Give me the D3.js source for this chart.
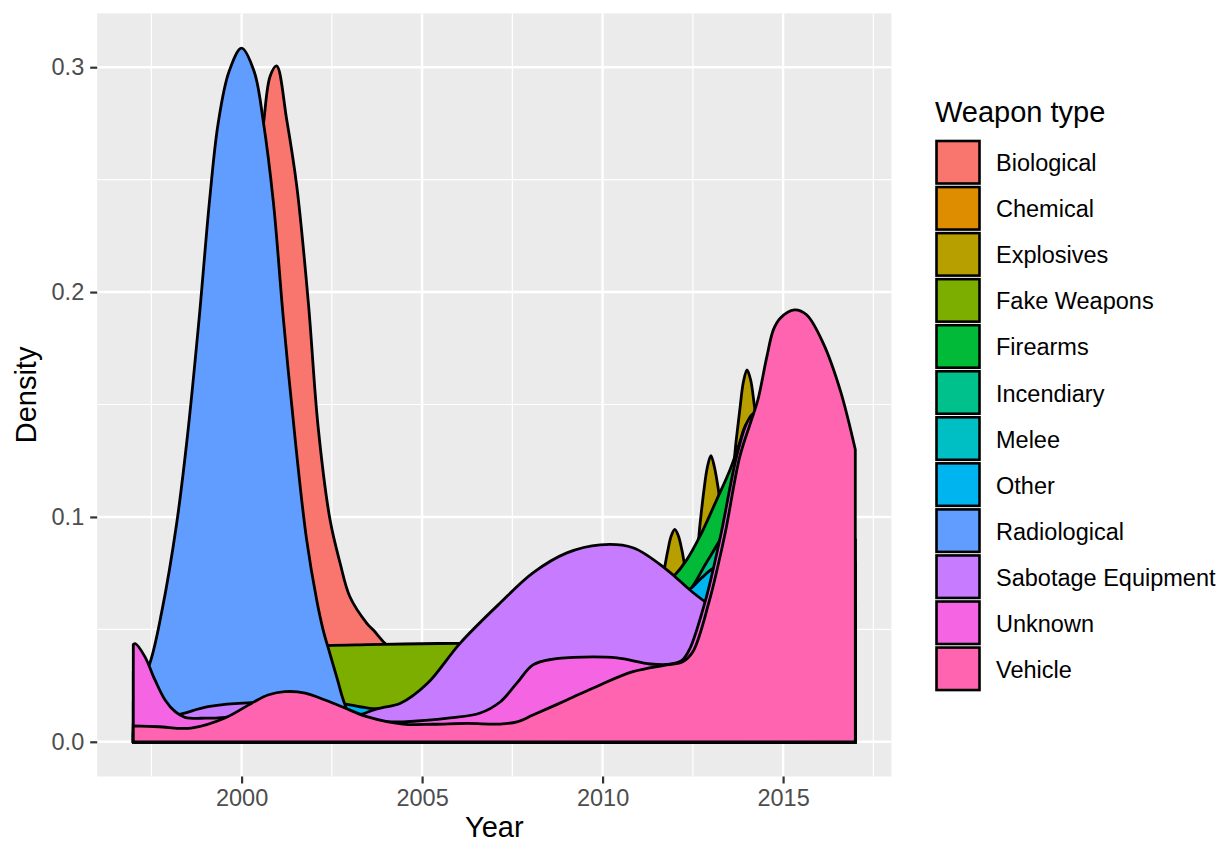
<!DOCTYPE html>
<html>
<head>
<meta charset="utf-8">
<script src="https://cdnjs.cloudflare.com/ajax/libs/d3/7.8.5/d3.min.js"></script>
<style>
  body { margin: 0; background: #fff; }
  svg { display: block; font-family: "Liberation Sans", Arial, Helvetica, sans-serif; }
</style>
</head>
<body>
<svg id="chart" width="1224" height="842"></svg>
<script>
/******************** DATOS ********************/
var weaponTypes = ["Biological", "Chemical", "Explosives", "Fake Weapons", "Firearms", "Incendiary",
                   "Melee", "Other", "Radiological", "Sabotage Equipment", "Unknown", "Vehicle"];
var colores = ["#F8766D", "#DE8C00", "#B79F00", "#7CAE00", "#00BA38", "#00C08B",
               "#00BFC4", "#00B4F0", "#619CFF", "#C77CFF", "#F564E3", "#FF64B0"];

// [year, density]
var biological = [[1997.0,0.000],[1998.0,0.003],[1999.0,0.040],[1999.6,0.110],[2000.0,0.180],[2000.3,0.235],
  [2000.6,0.274],[2000.79,0.296],[2000.97,0.3006],[2001.25,0.2766],[2001.53,0.2469],[2001.85,0.1951],
  [2002.12,0.140],[2002.45,0.0987],[2002.73,0.0794],[2003.0,0.0645],[2003.47,0.0527],[2003.65,0.0497],
  [2003.97,0.0438],[2004.5,0.036],[2005.0,0.029],[2006.0,0.020],[2008.0,0.012],[2011.0,0.008],[2014.0,0.006],[2017.0,0.005]];
var chemical = [[1997.0,0.004],[2000.0,0.020],[2005.0,0.020],[2010.0,0.015],[2013.0,0.030],[2015.0,0.090],[2016.0,0.100],[2017.0,0.090]];
var explosives = [[1997.0,0.004],[2003.0,0.004],[2007.0,0.005],[2009.0,0.009],[2010.0,0.016],[2010.8,0.030],[2011.3,0.048],
  [2011.6,0.068],[2011.7,0.076],[2011.8,0.0845],[2011.9,0.0915],[2012.0,0.0945],[2012.1,0.0915],[2012.2,0.085],
  [2012.3,0.077],[2012.45,0.072],[2012.6,0.082],[2012.7,0.097],[2012.8,0.111],[2012.9,0.122],[2013.0,0.1273],
  [2013.1,0.122],[2013.2,0.113],[2013.3,0.104],[2013.45,0.102],[2013.6,0.118],[2013.7,0.134],[2013.8,0.1476],
  [2013.9,0.160],[2014.0,0.1654],[2014.1,0.161],[2014.2,0.150],[2014.3,0.137],[2014.5,0.110],[2015.0,0.050],
  [2016.0,0.015],[2017.0,0.005]];
var fakeWeapons = [[1997.0,0.031],[1998.0,0.034],[1999.0,0.037],[2000.0,0.040],[2001.0,0.0415],[2002.36,0.0428],
  [2003.5,0.0432],[2004.5,0.0435],[2006.05,0.0438],[2007.5,0.0438],[2009.0,0.043],[2011.0,0.041],[2013.0,0.038],
  [2015.0,0.034],[2017.0,0.030]];
var firearms = [[1997.0,0.004],[2000.0,0.005],[2003.0,0.006],[2005.0,0.008],[2007.0,0.014],[2008.5,0.025],[2010.0,0.045],
  [2011.0,0.060],[2011.5,0.067],[2011.96,0.0734],[2012.33,0.0809],[2012.69,0.0912],[2013.16,0.1076],[2013.53,0.121],
  [2013.76,0.1313],[2013.99,0.1414],[2014.1,0.142],[2014.3,0.138],[2014.6,0.128],[2015.0,0.110],[2016.0,0.070],[2017.0,0.040]];
var incendiary = [[1997.0,0.003],[2000.0,0.004],[2004.0,0.006],[2007.0,0.012],[2009.0,0.025],[2010.5,0.042],[2011.5,0.056],
  [2012.0,0.062],[2012.42,0.0676],[2012.85,0.079],[2013.3,0.0912],[2013.7,0.104],[2014.2,0.113],[2015.0,0.110],
  [2016.0,0.085],[2017.0,0.060]];
var melee = [[1997.0,0.003],[2000.0,0.004],[2004.0,0.005],[2008.0,0.010],[2011.0,0.025],[2012.5,0.040],[2013.5,0.070],
  [2014.5,0.100],[2015.5,0.105],[2016.5,0.090],[2017.0,0.080]];
var other = [[1997.0,0.006],[1999.0,0.010],[2001.0,0.015],[2002.4,0.0175],[2002.87,0.0168],[2003.4,0.0153],[2003.64,0.0148],
  [2003.9,0.0147],[2005.0,0.0145],[2007.0,0.018],[2009.0,0.030],[2010.5,0.048],[2011.5,0.060],[2012.0,0.0645],
  [2012.42,0.068],[2012.75,0.073],[2013.07,0.0772],[2013.5,0.079],[2014.0,0.075],[2015.0,0.058],[2016.0,0.040],[2017.0,0.030]];
var radiological = [[1997.0,0.018],[1997.46,0.035],[1997.79,0.058],[1998.2,0.097],[1998.5,0.136],[1998.82,0.1876],
  [1999.12,0.2420],[1999.35,0.2750],[1999.65,0.2980],[2000.0,0.3085],[2000.35,0.2980],[2000.6,0.2760],[2000.88,0.2400],
  [2001.16,0.1876],[2001.5,0.132],[2001.8,0.090],[2002.08,0.0631],[2002.26,0.0497],[2002.45,0.039],[2002.65,0.028],
  [2002.82,0.0185],[2003.0,0.012],[2003.6,0.004],[2005.0,0.001],[2017.0,0.000]];
var sabotage = [[1997.0,0.008],[1997.8,0.0105],[1998.34,0.0124],[1999.07,0.0156],[2000.28,0.0174],[2001.2,0.0172],
  [2002.0,0.016],[2002.8,0.0135],[2003.3,0.0122],[2003.64,0.0141],[2003.9,0.0152],[2004.4,0.0171],[2005.15,0.026],
  [2006.05,0.0438],[2007.16,0.0617],[2008.07,0.0751],[2009.01,0.0840],[2009.93,0.0876],[2010.84,0.0863],
  [2011.78,0.0765],[2012.42,0.0675],[2012.84,0.0623],[2013.5,0.056],[2014.5,0.048],[2015.5,0.040],[2017.0,0.030]];
var unknown = [[1997.0,0.0432],[1997.06,0.0436],[1997.32,0.0379],[1997.6,0.0275],[1997.88,0.0186],[1998.16,0.0134],
  [1998.43,0.0109],[1999.0,0.0105],[1999.54,0.0109],[1999.82,0.0115],[2000.5,0.0115],[2001.5,0.011],[2002.5,0.010],
  [2003.5,0.0093],[2004.48,0.0089],[2005.78,0.0106],[2006.61,0.0128],[2007.16,0.0177],[2007.63,0.0262],
  [2008.07,0.0342],[2008.63,0.0368],[2009.46,0.0377],[2010.4,0.0373],[2011.32,0.0346],[2011.87,0.0345],
  [2012.2,0.0362],[2012.42,0.0415],[2012.84,0.0623],[2013.07,0.0772],[2013.3,0.094],[2013.71,0.1268],
  [2014.0,0.142],[2014.19,0.146],[2014.5,0.142],[2015.0,0.125],[2016.0,0.085],[2017.0,0.050]];
var vehicle = [[1997.0,0.0071],[1997.7,0.0067],[1998.6,0.0061],[1999.54,0.0106],[2000.29,0.0173],[2000.73,0.0208],
  [2001.2,0.0223],[2001.76,0.0217],[2002.31,0.0186],[2002.78,0.0156],[2003.47,0.0112],[2004.47,0.0079],
  [2005.3,0.0078],[2006.24,0.0082],[2007.16,0.0079],[2007.63,0.0089],[2008.07,0.0119],[2009.01,0.0186],
  [2009.93,0.0253],[2010.84,0.0312],[2011.78,0.0342],[2012.22,0.0356],[2012.5,0.0400],[2012.95,0.0623],
  [2013.18,0.0772],[2013.41,0.094],[2013.8,0.1268],[2014.1,0.142],[2014.3,0.152],[2014.55,0.1713],
  [2014.73,0.1832],[2014.92,0.1884],[2015.31,0.1921],[2015.65,0.1899],[2016.11,0.1773],[2016.58,0.1565],[2017.0,0.1300]];

var series = [biological, chemical, explosives, fakeWeapons, firearms, incendiary,
              melee, other, radiological, sabotage, unknown, vehicle];

var xMajor = [2000, 2005, 2010, 2015];
var xMinor = [1997.5, 2002.5, 2007.5, 2012.5, 2017.5];
var yMajor = [0, 0.1, 0.2, 0.3];
var yMinor = [0.05, 0.15, 0.25];

/******************** ESCALAS ********************/
var svg = d3.select("#chart");
var panel = {left: 97.2, right: 891.4, top: 13.4, bottom: 776.5};

var x = d3.scaleLinear().domain([1996, 2018]).range([panel.left, panel.right]);
var y = d3.scaleLinear().domain([-0.01543, 0.32393]).range([panel.bottom, panel.top]);

/******************** PANEL Y GRILLA ********************/
svg.append("rect")
  .attr("x", panel.left).attr("y", panel.top)
  .attr("width", panel.right - panel.left).attr("height", panel.bottom - panel.top)
  .attr("fill", "#EBEBEB");

var grid = svg.append("g").attr("stroke", "#fff").attr("fill", "none");
grid.selectAll(".xminor").data(xMinor).enter().append("line")
  .attr("x1", d => x(d)).attr("x2", d => x(d)).attr("y1", panel.top).attr("y2", panel.bottom)
  .attr("stroke-width", 1.2);
grid.selectAll(".yminor").data(yMinor).enter().append("line")
  .attr("y1", d => y(d)).attr("y2", d => y(d)).attr("x1", panel.left).attr("x2", panel.right)
  .attr("stroke-width", 1.2);
grid.selectAll(".xmajor").data(xMajor).enter().append("line")
  .attr("x1", d => x(d)).attr("x2", d => x(d)).attr("y1", panel.top).attr("y2", panel.bottom)
  .attr("stroke-width", 2.4);
grid.selectAll(".ymajor").data(yMajor).enter().append("line")
  .attr("y1", d => y(d)).attr("y2", d => y(d)).attr("x1", panel.left).attr("x2", panel.right)
  .attr("stroke-width", 2.4);

/******************** DENSIDADES ********************/
// catmull-rom pasa por los puntos leídos y da curvas suaves como geom_density
var area = d3.area()
  .x(d => x(d[0]))
  .y0(y(0))
  .y1(d => y(d[1]))
  .curve(d3.curveCatmullRom.alpha(0.5));

svg.append("g").selectAll("path")
  .data(series)
  .enter().append("path")
  .attr("d", area)
  .attr("fill", (d, i) => colores[i])
  .attr("stroke", "#000")
  .attr("stroke-width", 2.8);

/******************** EJES ********************/
var yAxis = svg.append("g")
  .attr("transform", "translate(" + panel.left + ",0)")
  .call(d3.axisLeft(y).tickValues(yMajor).tickFormat(d3.format(".1f")).tickSize(7).tickPadding(6));
var xAxis = svg.append("g")
  .attr("transform", "translate(0," + panel.bottom + ")")
  .call(d3.axisBottom(x).tickValues(xMajor).tickFormat(d3.format("d")).tickSize(7).tickPadding(6));

[xAxis, yAxis].forEach(function(ax) {
  ax.select(".domain").remove();
  ax.selectAll(".tick line").attr("stroke", "#333333").attr("stroke-width", 2.2);
  ax.selectAll(".tick text").attr("fill", "#4D4D4D").style("font-size", "23.5px")
    .style("font-family", "'Liberation Sans', Arial, sans-serif");
});

svg.append("text")
  .attr("x", (panel.left + panel.right) / 2).attr("y", 837)
  .attr("text-anchor", "middle").style("font-size", "29px")
  .text("Year");

svg.append("text")
  .attr("transform", "translate(36," + ((panel.top + panel.bottom) / 2) + ") rotate(-90)")
  .attr("text-anchor", "middle").style("font-size", "29px")
  .text("Density");

/******************** LEYENDA ********************/
var legend = svg.append("g").attr("transform", "translate(935,0)");
legend.append("text")
  .attr("x", 0).attr("y", 122)
  .style("font-size", "29px")
  .text("Weapon type");

var item = legend.selectAll(".legend")
  .data(weaponTypes)
  .enter().append("g")
  .attr("class", "legend")
  .attr("transform", (d, i) => "translate(0," + (141 + i * 46.05) + ")");

item.append("rect")
  .attr("x", 1.5).attr("y", 0)
  .attr("width", 43).attr("height", 42.5)
  .attr("fill", (d, i) => colores[i])
  .attr("stroke", "#000").attr("stroke-width", 2.6);

item.append("text")
  .attr("x", 61).attr("y", 21.25 + 9)
  .style("font-size", "23.5px")
  .text(d => d);
</script>
</body>
</html>
